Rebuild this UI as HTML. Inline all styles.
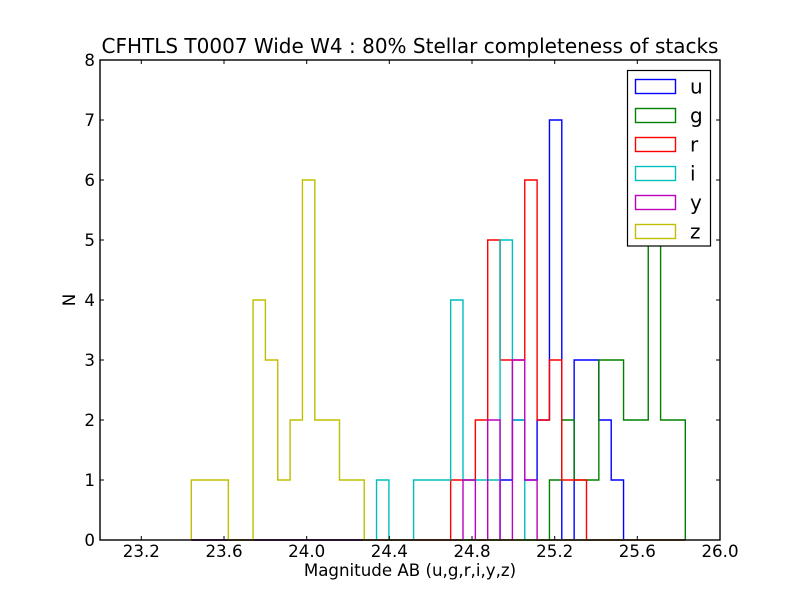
<!DOCTYPE html>
<html>
<head>
<meta charset="utf-8">
<style>
html,body{margin:0;padding:0;background:#fff;}
svg{display:block;}
text{font-family:"DejaVu Sans","Liberation Sans",sans-serif;fill:#000;}
</style>
</head>
<body>
<svg width="800" height="600" viewBox="0 0 800 600" xmlns="http://www.w3.org/2000/svg">
<rect x="0" y="0" width="800" height="600" fill="#fff"/>
<rect x="100" y="60" width="620" height="480" fill="#fff"/>
<g fill="none" stroke-width="1.4" stroke-linejoin="miter">
<!-- u -->
<path stroke="#0000ff" d="M191.3,540 H500.05 V480 H512.4 V420 H524.75 V480 H537.1 V420 H549.45 V120 H561.8 V540 H574.15 V360 H598.85 V420 H611.2 V480 H623.55 V540 H685.3"/>
<!-- g -->
<path stroke="#008000" d="M191.3,540 H549.45 V480 H561.8 V420 H574.15 V480 H598.85 V360 H623.55 V420 H648.25 V240 H660.6 V420 H685.3 V540"/>
<!-- r -->
<path stroke="#ff0000" d="M191.3,540 H450.65 V480 H475.35 V420 H487.7 V240 H500.05 V360 H524.75 V180 H537.1 V420 H549.45 V360 H561.8 V480 H586.5 V540 H685.3"/>
<!-- i -->
<path stroke="#00bfbf" d="M191.3,540 H376.55 V480 H388.9 V540 H413.6 V480 H450.65 V300 H463 V480 H500.05 V240 H512.4 V420 H524.75 V540 H685.3"/>
<!-- y -->
<path stroke="#bf00bf" d="M191.3,540 H463 V480 H475.35 V540 H487.7 V420 H500.05 V540 H512.4 V360 H524.75 V480 H537.1 V540 H685.3"/>
<!-- z -->
<path stroke="#bfbf00" d="M191.3,540 V480 H228.35 V540 H253.05 V300 H265.4 V360 H277.75 V480 H290.1 V420 H302.45 V180 H314.8 V420 H339.5 V480 H364.2 V540 H685.3"/>
</g>
<!-- ticks -->
<g stroke="#000" stroke-width="1">
<path d="M141.3,540 v-4 M224,540 v-4 M306.7,540 v-4 M389.3,540 v-4 M472,540 v-4 M554.7,540 v-4 M637.3,540 v-4
M141.3,60 v4 M224,60 v4 M306.7,60 v4 M389.3,60 v4 M472,60 v4 M554.7,60 v4 M637.3,60 v4
M100,480 h4 M100,420 h4 M100,360 h4 M100,300 h4 M100,240 h4 M100,180 h4 M100,120 h4
M720,480 h-4 M720,420 h-4 M720,360 h-4 M720,300 h-4 M720,240 h-4 M720,180 h-4 M720,120 h-4"/>
</g>
<rect x="100" y="60" width="620" height="480" fill="none" stroke="#000" stroke-width="1.4"/>
<!-- tick labels -->
<g font-size="16.67" text-anchor="middle">
<text x="141.3" y="557">23.2</text>
<text x="224" y="557">23.6</text>
<text x="306.7" y="557">24.0</text>
<text x="389.3" y="557">24.4</text>
<text x="472" y="557">24.8</text>
<text x="554.7" y="557">25.2</text>
<text x="637.3" y="557">25.6</text>
<text x="720" y="557">26.0</text>
</g>
<g font-size="16.67" text-anchor="end">
<text x="95" y="546">0</text>
<text x="95" y="486">1</text>
<text x="95" y="426">2</text>
<text x="95" y="366">3</text>
<text x="95" y="306">4</text>
<text x="95" y="246">5</text>
<text x="95" y="186">6</text>
<text x="95" y="126">7</text>
<text x="95" y="66">8</text>
</g>
<text x="410" y="576" font-size="16.67" text-anchor="middle">Magnitude AB (u,g,r,i,y,z)</text>
<text transform="translate(75,300) rotate(-90)" font-size="16.67" text-anchor="middle">N</text>
<text x="410" y="53" font-size="20" text-anchor="middle">CFHTLS T0007 Wide W4 : 80% Stellar completeness of stacks</text>
<!-- legend -->
<rect x="627.5" y="70.5" width="83" height="175.5" fill="#fff" stroke="#000" stroke-width="1.2"/>
<g fill="none" stroke-width="1.4">
<rect x="635.5" y="79.5" width="40" height="14" stroke="#0000ff"/>
<rect x="635.5" y="108.5" width="40" height="14" stroke="#008000"/>
<rect x="635.5" y="137.5" width="40" height="14" stroke="#ff0000"/>
<rect x="635.5" y="166.5" width="40" height="14" stroke="#00bfbf"/>
<rect x="635.5" y="195.5" width="40" height="14" stroke="#bf00bf"/>
<rect x="635.5" y="224.5" width="40" height="14" stroke="#bfbf00"/>
</g>
<g font-size="20">
<text x="690" y="93.5">u</text>
<text x="690" y="122.5">g</text>
<text x="690" y="151.5">r</text>
<text x="690" y="180.5">i</text>
<text x="690" y="209.5">y</text>
<text x="690" y="238.5">z</text>
</g>
</svg>
</body>
</html>
